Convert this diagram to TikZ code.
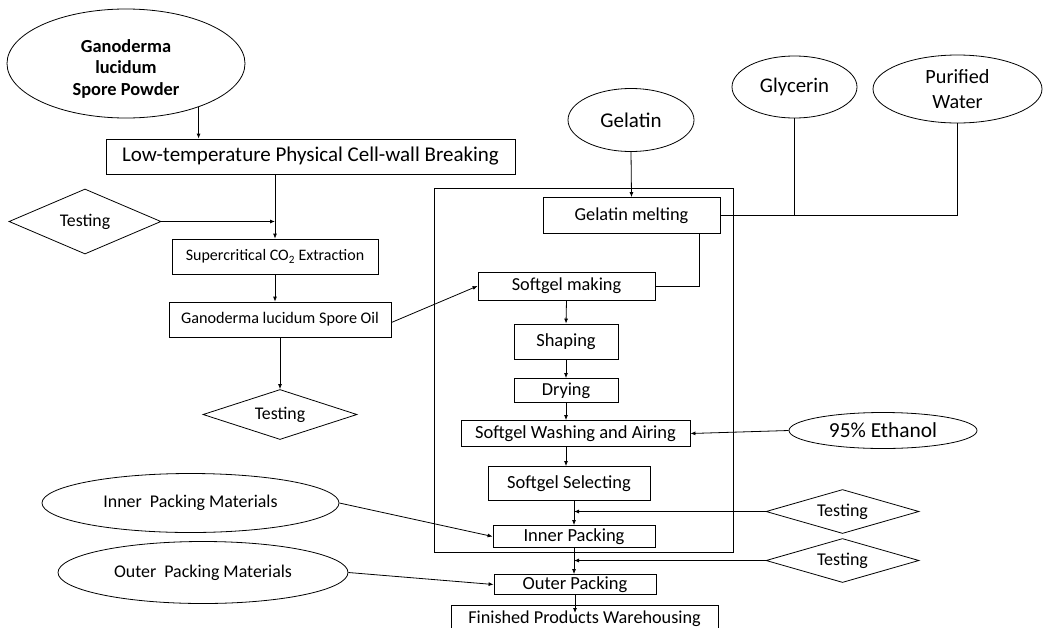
\documentclass[tikz,border=0pt]{standalone}
\usepackage{fontspec}
\setmainfont{Carlito}
\usetikzlibrary{shapes.geometric,arrows.meta}
\newcommand\myfs[2]{\fontsize{#1}{#2}\selectfont}
\begin{document}
\begin{tikzpicture}[x=1pt,y=-1pt,line width=0.8pt,
  box/.style={draw,inner sep=0pt,align=center},
  ell/.style={draw,ellipse,inner sep=0pt,align=center},
  dia/.style={draw,diamond,aspect=2.3,inner sep=0pt,align=center},
  arr/.style={-{Latex[length=5pt,width=4pt]}},
  ln/.style={-}]
\clip (0,0) rectangle (1046,627);
\fill[white] (0,0) rectangle (1046,627);
% frame
\node[draw,minimum width=299,minimum height=364,inner sep=0pt] (frame) at (583.5,370) {};
% left column
\node[ell,minimum width=238,minimum height=109] (gan) at (126,63.5) {};
\node[align=center,inner sep=0pt,font=\bfseries\myfs{18.4}{21.5}] (gantext) at (126,68.5) {Ganoderma\\lucidum\\Spore Powder};
\node[box,minimum width=409,minimum height=35,font=\myfs{21}{24}] (low) at (310.5,156.5) {Low-temperature Physical Cell-wall Breaking};
\node[dia,minimum width=152,minimum height=65,font=\myfs{17.8}{20}] (t1) at (85,221.5) {Testing};
\node[box,minimum width=206,minimum height=35,font=\myfs{16}{19}] (sup) at (275,256.5) {Supercritical CO\textsubscript{2} Extraction};
\node[box,minimum width=222,minimum height=35,font=\myfs{16.2}{19}] (oil) at (280,319.5) {Ganoderma lucidum Spore Oil};
\node[dia,minimum width=154,minimum height=50,font=\myfs{17.8}{20}] (t2) at (280,414.5) {Testing};
% right top
\node[ell,minimum width=126,minimum height=63,font=\myfs{21}{24}] (gel) at (631,120) {Gelatin};
\node[ell,minimum width=125,minimum height=62,font=\myfs{20.8}{24}] (gly) at (794.5,87) {Glycerin};
\node[ell,minimum width=169,minimum height=68,font=\myfs{20.2}{25}] (wat) at (957.5,89) {Purified\\Water};
% inner column
\node[box,minimum width=177,minimum height=36,font=\myfs{18.3}{21}] (melt) at (631.5,215.5) {Gelatin melting};
\node[box,minimum width=177,minimum height=28,font=\myfs{18.3}{21}] (make) at (566.5,286) {Softgel making};
\node[box,minimum width=104,minimum height=35,font=\myfs{18.5}{21}] (shape) at (566,341.5) {Shaping};
\node[box,minimum width=104,minimum height=24,font=\myfs{18.3}{21}] (dry) at (566,390.5) {Drying};
\node[box,minimum width=229,minimum height=26,font=\myfs{18.5}{21}] (wash) at (575.5,433.5) {Softgel Washing and Airing};
\node[box,minimum width=162,minimum height=34,font=\myfs{18.5}{21}] (sel) at (569,483.5) {Softgel Selecting};
\node[box,minimum width=162,minimum height=22,font=\myfs{18.5}{21}] (inn) at (574,536.5) {Inner Packing};
\node[box,minimum width=162,minimum height=20,font=\myfs{18.5}{21}] (out) at (575,584.5) {Outer Packing};
\node[box,minimum width=267,minimum height=26,font=\myfs{18.2}{21},anchor=north] (fin) at (584.5,605) {Finished Products Warehousing};
% right side
\node[ell,minimum width=188,minimum height=36,font=\myfs{21.4}{24}] (eth) at (883,430.5) {95\% Ethanol};
\node[dia,minimum width=153,minimum height=44,font=\myfs{18}{20}] (t3) at (842.5,511.5) {Testing};
\node[dia,minimum width=153,minimum height=44,font=\myfs{18}{20}] (t4) at (842.5,560.5) {Testing};
% left bottom
\node[ell,minimum width=297,minimum height=59,font=\myfs{17.9}{20}] (imat) at (190.5,503) {Inner\ \ Packing Materials};
\node[ell,minimum width=290,minimum height=62,font=\myfs{17.9}{20}] (omat) at (203,572.5) {Outer\ \ Packing Materials};
% connectors
\draw[arr] (gan.-31) -- (gan.-31 |- low.north);
\draw[arr] (sup.north |- low.south) -- (sup.north);
\draw[arr] (t1.east) -- (t1.east -| sup.north);
\draw[arr] (sup.south) -- (sup.south |- oil.north);
\draw[arr] (oil.south) -- (t2.north);
\draw[arr] ([yshift=-3]oil.east) -- (make.west);
\draw[arr] (gel.south) -- (melt.north);
\draw[ln] (melt.east) -- (melt.east -| wat.south) -- (wat.south);
\draw[ln] (gly.south) -- (gly.south |- melt.east);
\draw[ln] ([xshift=-21]melt.south east) |- (make.east);
\draw[arr] (make.south) -- (shape.north);
\draw[arr] (shape.south) -- (dry.north);
\draw[arr] (dry.south) -- (dry.south |- wash.north);
\draw[arr] (wash.south -| dry.south) -- (sel.north -| dry.south);
\draw[arr] (eth.west) -- (wash.east);
\draw[arr] (inn.north |- sel.south) -- (inn.north);
\draw[arr] (t3.west) -- (t3.west -| inn.north);
\draw[arr] (inn.south) -- (inn.south |- out.north);
\draw[arr] (t4.west) -- (t4.west -| inn.south);
\draw[arr] (imat.east) -- (inn.west);
\draw[arr] (omat.east) -- (out.west);
\draw[arr] (out.south) -- ([yshift=-8]out.south |- fin.north);
\end{tikzpicture}
\end{document}
